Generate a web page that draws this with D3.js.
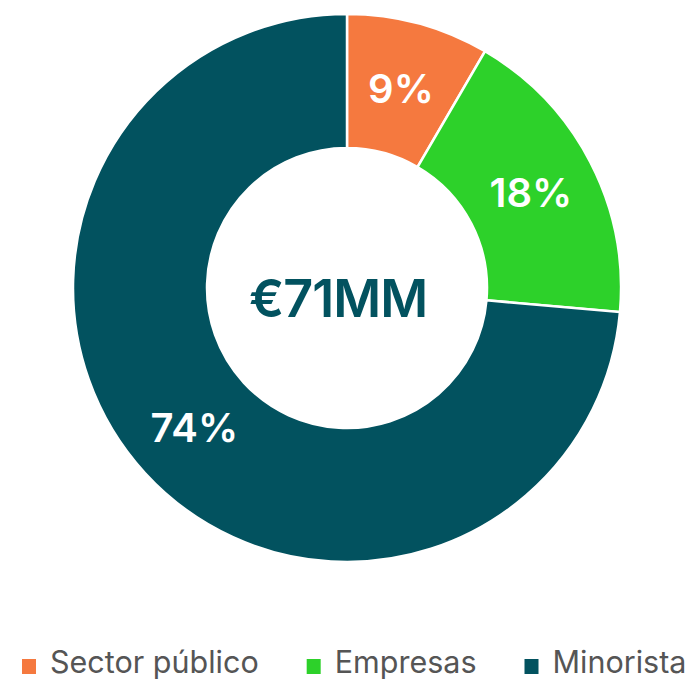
<!DOCTYPE html>
<html>
<head>
<meta charset="utf-8">
<script src="https://d3js.org/d3.v7.min.js"></script>
<style>
  body { margin: 0; background: #fff; }
  svg { display: block; }
</style>
</head>
<body>
<div id="chart"></div>
<script>
// segment data (share of €71MM)
var categories = ["Sector público", "Empresas", "Minorista"];
var values = [8.4, 18.0, 73.6];
var labels = ["9%", "18%", "74%"];
var colors = ["#f5793f", "#2dd12a", "#02525f"];
var centerLabel = "€71MM";

var width = 692, height = 680;
var cx = 347, cy = 288;
var outerR = 274, innerR = 140;

var svg = d3.select("#chart").append("svg")
  .attr("width", width)
  .attr("height", height);

var g = svg.append("g")
  .attr("transform", "translate(" + cx + "," + cy + ")");

var pie = d3.pie().sort(null).value(function(d) { return d; });
var arc = d3.arc().innerRadius(innerR).outerRadius(outerR);

var arcs = pie(values);

g.selectAll("path.slice")
  .data(arcs)
  .enter()
  .append("path")
    .attr("class", "slice")
    .attr("d", arc)
    .style("fill", function(d, i) { return colors[i]; })
    .style("stroke", "#fff")
    .style("stroke-width", 2.5);

// percent labels on the ring
g.selectAll("text.pct")
  .data(arcs)
  .enter()
  .append("text")
    .attr("class", "pct")
    .attr("transform", function(d) { return "translate(" + arc.centroid(d) + ")"; })
    .attr("text-anchor", "middle")
    .attr("dy", "0.36em")
    .style("font-family", "Inter, sans-serif")
    .style("font-weight", 600)
    .style("font-size", "40px")
    .style("fill", "#fff")
    .text(function(d, i) { return labels[i]; });

// center total
g.append("text")
  .attr("text-anchor", "middle")
  .attr("x", -9)
  .attr("y", 29)
  .style("font-family", "Inter, sans-serif")
  .style("font-weight", 600)
  .style("font-size", "52px")
  .style("letter-spacing", "-1px")
  .style("fill", "#02525f")
  .text(centerLabel);

// legend
var legend = svg.append("g").attr("class", "legend");
var lx = 22, ly = 673;
categories.forEach(function(c, i) {
  var item = legend.append("g").attr("transform", "translate(" + lx + "," + ly + ")");
  item.append("rect")
    .attr("x", 0).attr("y", -14)
    .attr("width", 14).attr("height", 15)
    .style("fill", colors[i]);
  var t = item.append("text")
    .attr("x", 28)
    .style("font-family", "Inter, sans-serif")
    .style("font-size", "30.5px")
    .style("fill", "#555")
    .text(c);
  lx += 28 + t.node().getComputedTextLength() + 48;
});
</script>
</body>
</html>
